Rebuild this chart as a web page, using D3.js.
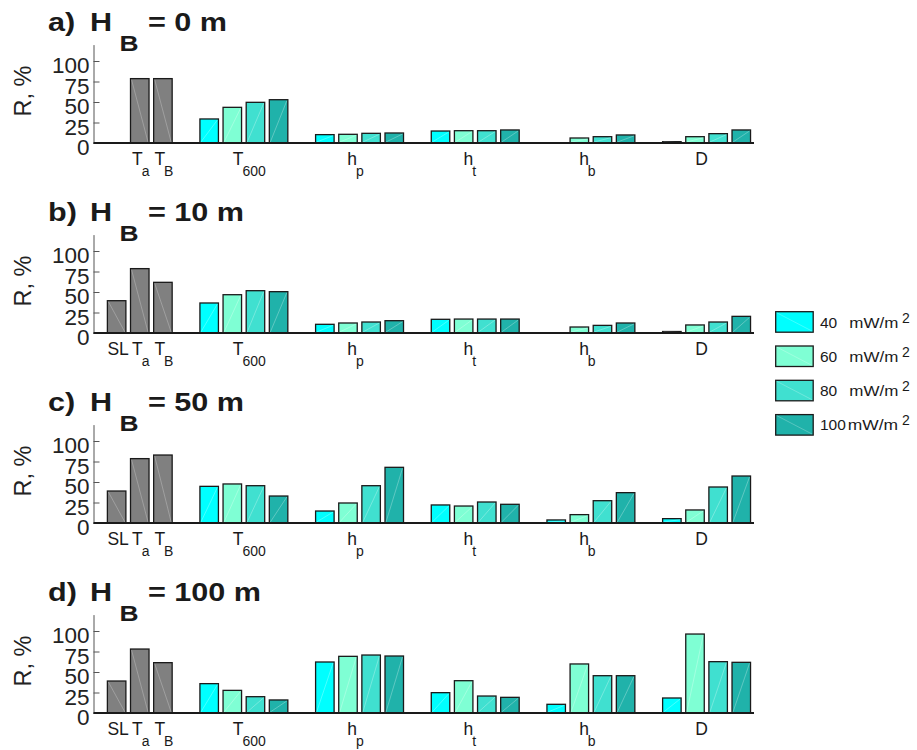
<!DOCTYPE html>
<html>
<head>
<meta charset="utf-8">
<script src="https://cdn.jsdelivr.net/npm/d3@7"></script>
<style>
  html, body { margin: 0; padding: 0; background: #fff; }
  svg { display: block; font-family: "Liberation Sans", Arial, Helvetica, sans-serif; }
</style>
</head>
<body>
<svg id="chart" width="917" height="750"></svg>
<script>
// Panels: basal depth H_B of each scenario
const panelTags = ["a)", "b)", "c)", "d)"];
const depthValues = [0, 10, 50, 100];

// Grey bars (single-value parameters), R in %
const greyLabels = [["SL", ""], ["T", "a"], ["T", "B"]];
const slValues = [null, 39.4, 39, 39];
const taValues = [78.5, 78.5, 78.5, 78];
const tbValues = [78.5, 61.8, 82.9, 61.4];

// Parameter groups evaluated for each heat flow
const groupLabels = [["T", "600"], ["h", "p"], ["h", "t"], ["h", "b"], ["D", ""]];
const heatFlows = ["40", "60", "80", "100"];
const flowColors = ["#00FFFF", "#7FFFD4", "#40E0D0", "#20B2AA"];

// R (%) per panel, ordered T600, hp, ht, hb, D
const r40 = [[29.3, 10.2, 14.6, 0, 1.6], [36.6, 10.6, 16.7, 0, 1.8], [44.7, 14.6, 22.0, 3.7, 5.3], [35.8, 62.2, 24.8, 10.6, 18.3]];
const r60 = [[43.5, 10.6, 15.0, 6.1, 7.7], [46.7, 12.2, 17.0, 7.3, 9.8], [47.6, 24.4, 20.7, 10.2, 15.9], [27.6, 69.1, 39.4, 59.8, 96.3]];
const r80 = [[49.6, 11.8, 15.0, 7.7, 11.4], [51.6, 13.4, 17.0, 9.3, 13.4], [45.5, 45.5, 25.6, 27.2, 43.9], [19.9, 70.7, 20.7, 45.5, 62.6]];
const r100 = [[52.8, 12.2, 15.9, 9.8, 15.9], [50.4, 15.0, 17.0, 12.2, 20.3], [32.9, 67.9, 22.8, 37.0, 57.3], [15.9, 69.5, 19.1, 45.5, 61.8]];
const yTicks = [0, 25, 50, 75, 100];

const flowSeries = [r40, r60, r80, r100];
const svg = d3.select("#chart");
const textColor = "#1a1a1a";

// shared horizontal slot scale: 3 grey slots, gap, then 5 groups of 4 bars with gaps
const x = d3.scaleLinear().domain([-1, 27.55]).range([93.5, 754]);
const slotW = x(1) - x(0);
const barW = slotW * 0.8;
// small horizontal nudges for the group labels
const groupNudge = [6, -3.5, -5, -3, -5];

panelTags.forEach((tag, p) => {
  const base = 143 + 190 * p;
  const y = d3.scaleLinear().domain([0, 120]).range([base, base - 98.4]);
  const g = svg.append("g");

  // title  "a)  H_B = 0 m"
  const tg = g.append("g").attr("transform", `translate(48,${base - 112.5}) scale(1.2,1)`);
  const tt = tg.append("text").attr("font-weight", "bold").attr("font-size", 25.5).attr("fill", textColor);
  tt.append("tspan").attr("x", 0).text(tag);
  tt.append("tspan").attr("x", 35).text("H");
  tt.append("tspan").attr("x", 59.5).attr("dy", 20.5).attr("font-size", 22).text("B");
  tt.append("tspan").attr("x", 83.3).attr("dy", -20.5).attr("xml:space", "preserve").text(`= ${depthValues[p]} m`);

  // y axis with inward ticks
  const yAxis = d3.axisLeft(y).tickValues(yTicks).tickSize(-6).tickSizeOuter(0).tickPadding(4);
  const ax = g.append("g").attr("transform", "translate(93.5,0)").call(yAxis);
  ax.select(".domain").attr("stroke", "#555").attr("stroke-width", 1);
  ax.selectAll(".tick line").attr("stroke", "#555").attr("stroke-width", 1);
  ax.selectAll(".tick text")
    .attr("font-size", 22.5).attr("font-family", "Liberation Sans, Arial, sans-serif")
    .attr("fill", "#222").attr("dy", "0.52em");

  // y label
  g.append("text")
    .attr("transform", `translate(31,${base - 52}) rotate(-90)`)
    .attr("text-anchor", "middle").attr("font-size", 23.5).attr("fill", "#222")
    .text("R, %");

  // bars: grey parameters
  const greyVals = [slValues[p], taValues[p], tbValues[p]];
  const bars = [];
  greyVals.forEach((v, i) => {
    if (v !== null && v > 0) bars.push({ i, v, fill: "#808080", grey: true });
  });
  groupLabels.forEach((gl, gi) => {
    flowSeries.forEach((series, f) => {
      const v = series[p][gi];
      if (v > 0) bars.push({ i: 4 + gi * 5 + f, v, fill: flowColors[f], grey: false });
    });
  });

  const bg = g.selectAll("g.bar").data(bars).enter().append("g").attr("class", "bar");
  bg.append("rect")
    .attr("x", d => x(d.i) - barW / 2)
    .attr("y", d => y(d.v))
    .attr("width", barW)
    .attr("height", d => y(0) - y(d.v))
    .attr("fill", d => d.fill)
    .attr("stroke", "#1a1a1a").attr("stroke-width", 1.3);
  // faint diagonal seam inside each bar
  bg.append("line")
    .attr("x1", d => x(d.i) - barW / 2 + 1)
    .attr("x2", d => x(d.i) + barW / 2 - 1)
    .attr("y1", d => d.grey ? y(d.v) + 1 : y(0) - 1)
    .attr("y2", d => d.grey ? y(0) - 1 : y(d.v) + 1)
    .attr("stroke", "#fff").attr("stroke-opacity", d => d.grey ? 0.35 : 0.4).attr("stroke-width", 0.7);

  // x axis baseline
  g.append("line")
    .attr("x1", x.range()[0]).attr("x2", x.range()[1])
    .attr("y1", y(0)).attr("y2", y(0))
    .attr("stroke", "#1a1a1a").attr("stroke-width", 1.8);

  // category labels with subscripts
  function addLabel(cx, main, sub, nudge) {
    const t = g.append("text").attr("fill", textColor).attr("font-size", 17.5);
    t.append("tspan").attr("y", base + 22).text(main);
    if (sub) t.append("tspan").attr("y", base + 33).attr("dx", -1).attr("font-size", 14).text(sub);
    const w = t.node().getComputedTextLength();
    t.attr("x", cx - w / 2 + nudge);
    t.select("tspan").attr("x", cx - w / 2 + nudge);
  }
  greyLabels.forEach((gl, i) => {
    if (greyVals[i] !== null) addLabel(x(i), gl[0], gl[1], 1.5);
  });
  groupLabels.forEach((gl, gi) => {
    addLabel(x(4 + gi * 5 + 1.5), gl[0], gl[1], groupNudge[gi]);
  });
});

// legend
const leg = svg.append("g");
heatFlows.forEach((hf, k) => {
  const top = 311.7 + k * 34.3;
  leg.append("rect")
    .attr("x", 775.7).attr("y", top).attr("width", 37.5).attr("height", 20.5)
    .attr("fill", flowColors[k]).attr("stroke", "#1a1a1a").attr("stroke-width", 1.3);
  leg.append("line")
    .attr("x1", 776.7).attr("y1", top + 1).attr("x2", 812.2).attr("y2", top + 19.5)
    .attr("stroke", "#fff").attr("stroke-opacity", 0.35).attr("stroke-width", 0.7);
  const bl = top + 15.8;
  leg.append("text").attr("x", 820).attr("y", bl).attr("font-size", 15.5).attr("fill", textColor).text(hf);
  leg.append("text").attr("x", hf.length > 2 ? 847.7 : 849.3).attr("y", bl)
    .attr("font-size", 15.5).attr("fill", textColor)
    .attr("textLength", hf.length > 2 ? 50.3 : 49).attr("lengthAdjust", "spacingAndGlyphs")
    .text("mW/m");
  leg.append("text").attr("x", 902).attr("y", bl - 5).attr("font-size", 14).attr("fill", textColor).text("2");
});
</script>
</body>
</html>
